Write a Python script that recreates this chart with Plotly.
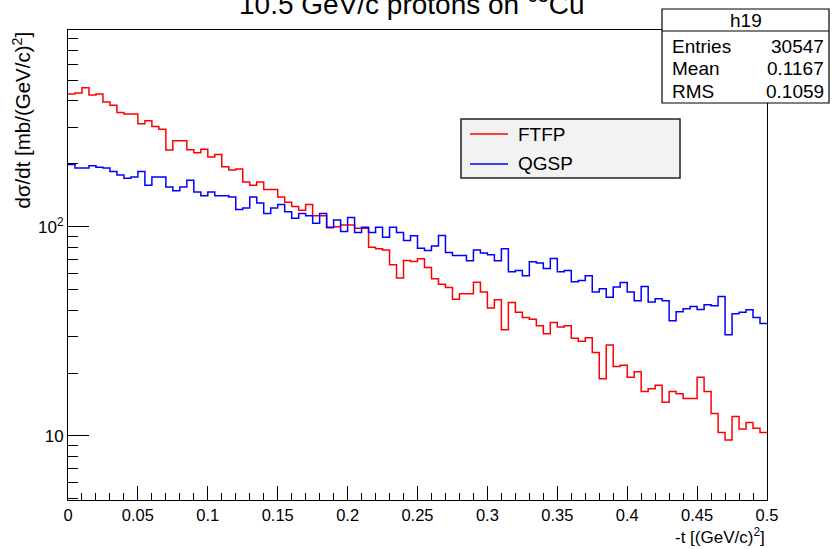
import numpy as np
import plotly.graph_objects as go

# ---- data (dsigma/dt per bin, 100 bins over 0..0.5) ----
t_min, t_max, n_bins = 0.0, 0.5, 100
ftfp = [432, 437, 463, 427, 432, 396, 382, 352, 347, 347,
        311, 322, 302, 293, 233, 258, 258, 234, 226, 235,
        216, 222, 194, 187, 189, 164, 158, 164, 151, 151,
        139, 131, 125, 120, 128, 113, 113, 99, 100, 102,
        102, 98.6, 98.6, 80, 78.5, 77.6, 65.8, 56.9, 69.0, 68.3,
        70.3, 63.9, 56.4, 53.2, 51.3, 45.1, 47.9, 47.9, 54.4, 48.8,
        40.9, 44.8, 32.2, 43.5, 39.0, 36.9, 36.2, 33.7, 30.8, 34.9,
        33.2, 33.7, 29.3, 28.4, 29.5, 25.1, 18.8, 27.2, 21.5, 21.8,
        19.1, 20.3, 16.3, 16.8, 17.5, 14.5, 16.3, 15.9, 15.1, 15.1,
        19.1, 16.3, 12.8, 10.4, 9.57, 12.4, 10.8, 11.6, 10.9, 10.4]
qgsp = [199, 191, 191, 196, 193, 191, 184, 177, 171, 173,
        184, 158, 173, 173, 155, 149, 155, 167, 147, 141,
        147, 141, 141, 139, 121, 123, 139, 130, 116, 123,
        128, 118, 110, 116, 113, 104, 116, 99.7, 108, 95.0,
        111, 93.9, 99.7, 93.9, 99.7, 89.3, 99.7, 93.9, 86.0, 90.6,
        79.1, 77.0, 81.1, 90.9, 75.4, 72.9, 72.9, 68.8, 77.6, 74.9,
        73.5, 68.8, 78.5, 61.0, 61.8, 58.3, 68.1, 67.1, 63.2, 70.6,
        61.0, 61.8, 54.6, 55.4, 58.3, 48.8, 50.6, 46.1, 51.5, 54.2,
        48.8, 44.3, 51.9, 43.7, 45.3, 44.3, 35.6, 39.3, 40.6, 41.6,
        40.3, 42.4, 41.9, 46.5, 30.5, 38.4, 39.0, 40.1, 36.9, 34.5]
series_names = ["FTFP", "QGSP"]
series_colors = ["#ff0000", "#0000ff"]
stats_title = "h19"
stats_rows = [("Entries", "30547"), ("Mean", "0.1167"), ("RMS", "0.1059")]
x_ticks = [0, 0.05, 0.1, 0.15, 0.2, 0.25, 0.3, 0.35, 0.4, 0.45, 0.5]
x_tick_text = ["0", "0.05", "0.1", "0.15", "0.2", "0.25", "0.3", "0.35", "0.4", "0.45", "0.5"]
y_ticks = [10, 100]
y_tick_text = ["10", "10<sup>2</sup>"]
y_minor = [5, 6, 7, 8, 9, 20, 30, 40, 50, 60, 70, 80, 90, 200, 300, 400, 500, 600, 700, 800]

FONT = "Liberation Sans, Arial, Helvetica, sans-serif"
W, H = 832, 549
L, R, T, B = 68, 767, 30, 500   # plot frame in pixels


def px(xp):
    return (xp - L) / (R - L)


def py(yp):
    return (B - yp) / (B - T)


edges = np.linspace(t_min, t_max, n_bins + 1)

fig = go.Figure()
for name, vals, col in zip(series_names, [ftfp, qgsp], series_colors):
    yv = list(vals) + [vals[-1]]
    fig.add_trace(go.Scatter(x=edges, y=yv, mode="lines", name=name,
                             line=dict(color=col, width=1.5, shape="hv"),
                             showlegend=False, hoverinfo="skip"))

shapes = []
annotations = []

# title (partially cut at the top, as in the reference)
annotations.append(dict(text="10.5 GeV/c protons on <sup>63</sup>Cu", xref="paper", yref="paper",
                        x=px(412), y=py(1.5), xanchor="center", yanchor="middle",
                        showarrow=False, font=dict(family=FONT, size=28, color="black")))

# axis titles (ROOT style alignment)
annotations.append(dict(text="d\u03c3/dt [mb/(GeV/c)<sup>2</sup>]", xref="paper", yref="paper",
                        x=px(21), y=1.0, xanchor="center", yanchor="top", textangle=-90,
                        showarrow=False, font=dict(family=FONT, size=20.5, color="black")))
annotations.append(dict(text="-t [(GeV/c)<sup>2</sup>]", xref="paper", yref="paper",
                        x=1.0, y=py(536), xanchor="right", yanchor="middle",
                        showarrow=False, font=dict(family=FONT, size=17, color="black")))

# legend box
shapes.append(dict(type="rect", xref="paper", yref="paper",
                   x0=px(461), x1=px(680), y0=py(178), y1=py(119),
                   fillcolor="#f2f2f2", line=dict(color="#222222", width=1.5), layer="above"))
for i, (name, col) in enumerate(zip(series_names, series_colors)):
    yy = 134 + 30 * i
    shapes.append(dict(type="line", xref="paper", yref="paper",
                       x0=px(470), x1=px(508), y0=py(yy), y1=py(yy),
                       line=dict(color=col, width=1.5), layer="above"))
    annotations.append(dict(text=name, xref="paper", yref="paper", x=px(516), y=py(yy),
                            xanchor="left", yanchor="middle", showarrow=False,
                            font=dict(family=FONT, size=19, color="black")))

# stats box
shapes.append(dict(type="rect", xref="paper", yref="paper",
                   x0=px(662), x1=px(829), y0=py(103), y1=py(9),
                   fillcolor="white", line=dict(color="black", width=1.2), layer="above"))
shapes.append(dict(type="line", xref="paper", yref="paper",
                   x0=px(662), x1=px(829), y0=py(31), y1=py(31),
                   line=dict(color="black", width=1.2), layer="above"))
annotations.append(dict(text=stats_title, xref="paper", yref="paper", x=px(745.5), y=py(20),
                        xanchor="center", yanchor="middle", showarrow=False,
                        font=dict(family=FONT, size=19, color="black")))
for i, (k, v) in enumerate(stats_rows):
    yy = 46 + 23 * i
    annotations.append(dict(text=k, xref="paper", yref="paper", x=px(670), y=py(yy),
                            xanchor="left", yanchor="middle", showarrow=False,
                            font=dict(family=FONT, size=19, color="black")))
    annotations.append(dict(text=v, xref="paper", yref="paper", x=px(826), y=py(yy),
                            xanchor="right", yanchor="middle", showarrow=False,
                            font=dict(family=FONT, size=19, color="black")))

fig.update_layout(
    width=W, height=H,
    margin=dict(l=L, r=W - R, t=T, b=H - B, pad=0),
    paper_bgcolor="white", plot_bgcolor="white",
    font=dict(family=FONT, size=16.5, color="black"),
    shapes=shapes, annotations=annotations,
    xaxis=dict(range=[t_min, t_max], showgrid=False, zeroline=False,
               showline=True, linecolor="black", linewidth=1, mirror=True,
               ticks="inside", ticklen=14, tickcolor="black", tickwidth=1,
               tickmode="array", tickvals=x_ticks, ticktext=x_tick_text,
               tickfont=dict(family=FONT, size=16.5, color="black"),
               minor=dict(ticks="inside", ticklen=7, tickcolor="black", dtick=0.01, showgrid=False)),
    yaxis=dict(type="log", range=[np.log10(4.94), np.log10(874)], showgrid=False, zeroline=False,
               showline=True, linecolor="black", linewidth=1, mirror=True,
               ticks="inside", ticklen=21, tickcolor="black", tickwidth=1,
               tickmode="array", tickvals=y_ticks, ticktext=y_tick_text,
               tickfont=dict(family=FONT, size=17, color="black"),
               minor=dict(ticks="inside", ticklen=10, tickcolor="black",
                          tickmode="array", tickvals=y_minor, showgrid=False)),
)

fig.write_html("out.html")
